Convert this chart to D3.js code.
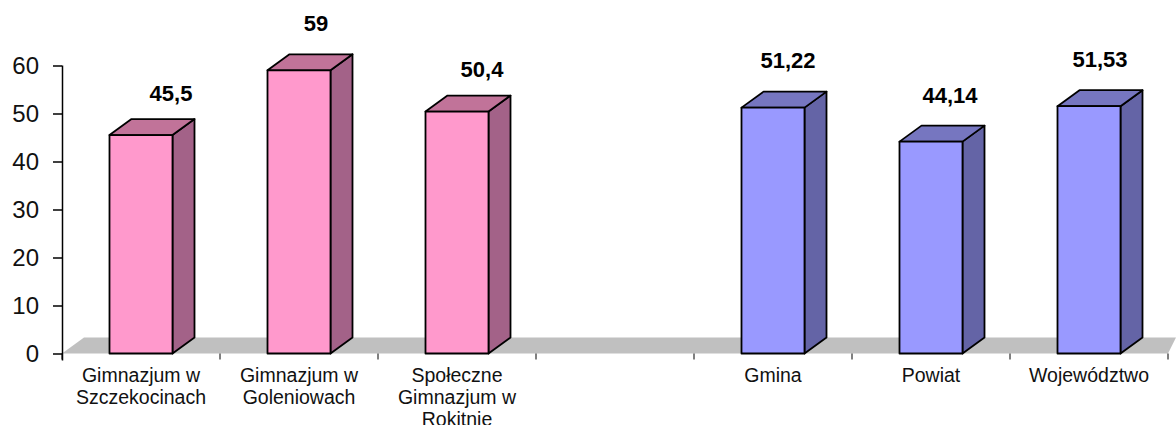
<!DOCTYPE html>
<html><head><meta charset="utf-8">
<script src="https://cdn.jsdelivr.net/npm/d3@7/dist/d3.min.js"></script>
<style>html,body{margin:0;padding:0;background:#fff}svg{display:block}text{font-family:"Liberation Sans",Arial,sans-serif}</style>
</head><body><svg id="c" width="1176" height="425"></svg>
<script>
const bandKeys = ["a","b","c","gap","d","e","f"];
const categories = [["Gimnazjum w","Szczekocinach"],["Gimnazjum w","Goleniowach"],["Społeczne","Gimnazjum w","Rokitnie"],[""],["Gmina"],["Powiat"],["Województwo"]];
const values = [45.5,59,50.4,null,51.22,44.14,51.53];
const valueLabels = ["45,5","59","50,4","","51,22","44,14","51,53"];
const groups = ["pink","pink","pink","","blue","blue","blue"];
const yTicks = [0,10,20,30,40,50,60];
const labelShift = [[30,-34],[17,-39],[25,-35],[0,0],[15,-40],[19,-39],[11,-39]];
const palette = {pink:{front:"#ff99cc",top:"#c17399",side:"#a36288"},blue:{front:"#9999ff",top:"#7676c0",side:"#6464a6"}};
const depth = {x:22,y:16};

const svg = d3.select("#c");
const x = d3.scaleBand().domain(bandKeys).range([62,1168]).padding(0);
const y = d3.scaleLinear().domain([0,60]).range([353.5,65.5]);
const barW = 63;

// floor
svg.append("path").attr("fill","#c0c0c0")
  .attr("d",`M${x.range()[0]},${y(0)}L${x.range()[0]+depth.x},${y(0)-depth.y}H${x.range()[1]+depth.x-14}L${x.range()[1]},${y(0)}Z`);

// axes
const gy = svg.append("g").attr("transform",`translate(${x.range()[0]},0)`)
  .call(d3.axisLeft(y).tickValues(yTicks).tickSize(9).tickPadding(14));
gy.selectAll("path,line").attr("stroke","#000").attr("stroke-width",1.5);
gy.select(".domain").attr("d",`M0.5,${y(60)}V${y(0)+7}`);
gy.selectAll("text").attr("font-size",24).attr("fill","#111");

const ticksX = bandKeys.map(k=>x(k)).concat(x.range()[1]);
svg.append("g").selectAll("line").data(ticksX).join("line")
  .attr("x1",d=>d).attr("x2",d=>d).attr("y1",y(0)).attr("y2",y(0)+6)
  .attr("stroke","#000").attr("stroke-width",1);

// bars
const rows = bandKeys.map((k,i)=>({k,i,v:values[i],g:groups[i]})).filter(d=>d.v!==null);
const bar = svg.append("g").selectAll("g").data(rows).join("g");
const X0 = d=>x(d.k)+(x.bandwidth()-barW)/2;
const st = {stroke:"#000","stroke-width":1.8,"stroke-linejoin":"round"};
function sty(s){for(const k in st)s.attr(k,st[k]);return s;}
sty(bar.append("path")).attr("fill",d=>palette[d.g].side)
  .attr("d",d=>{const a=X0(d)+barW,t=y(d.v),b=y(0);return `M${a},${t}L${a+depth.x},${t-depth.y}V${b-depth.y}L${a},${b}Z`;});
sty(bar.append("path")).attr("fill",d=>palette[d.g].top)
  .attr("d",d=>{const a=X0(d),t=y(d.v);return `M${a},${t}L${a+depth.x},${t-depth.y}H${a+barW+depth.x}L${a+barW},${t}Z`;});
sty(bar.append("rect")).attr("fill",d=>palette[d.g].front)
  .attr("x",X0).attr("y",d=>y(d.v)).attr("width",barW).attr("height",d=>y(0)-y(d.v));

// value labels
bar.append("text").attr("text-anchor","middle").attr("font-weight","bold").attr("font-size",22).attr("fill","#000")
  .attr("x",d=>x(d.k)+x.bandwidth()/2+labelShift[d.i][0])
  .attr("y",d=>y(d.v)+labelShift[d.i][1]).text(d=>valueLabels[d.i]);

// category labels
const cat = svg.append("g").selectAll("text").data(bandKeys).join("text")
  .attr("text-anchor","middle").attr("font-size",19.5).attr("fill","#111")
  .attr("transform",k=>`translate(${x(k)+x.bandwidth()/2},382)`);
cat.selectAll("tspan").data((k,i)=>categories[i]).join("tspan")
  .attr("x",0).attr("y",(d,i)=>i*22).text(d=>d);
</script></body></html>
